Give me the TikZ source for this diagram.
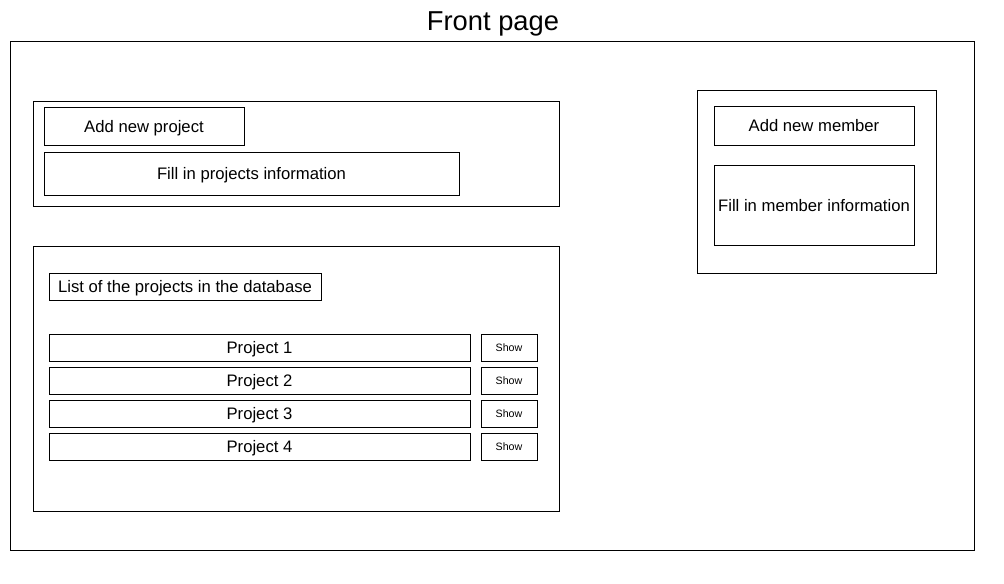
\documentclass[tikz,border=0pt]{standalone}
\usepackage{fontspec}
\setmainfont{Liberation Sans}
\begin{document}
\begin{tikzpicture}[x=0.75pt,y=-0.75pt,line width=0.65pt,
	titre/.style={font=\fontsize{20.5}{24}\selectfont},
	texte/.style={font=\fontsize{12.5}{14}\selectfont, text depth=0pt},
	petit/.style={font=\fontsize{8}{9}\selectfont, text depth=0pt}]
	\useasboundingbox (0,0) rectangle (1004,583);
	% la page
	\node[titre] (titre) at (493,24) {Front page};
	\draw (10,41) rectangle (974,550);
	% nouveau projet
	\draw (33,101) rectangle (559,206);
	\draw (44,107) rectangle (244,145) node[midway,texte] (ajoutprojet) {Add new project};
	\draw (44,152) rectangle (459,195) node[midway,texte] (infoprojet) {Fill in projects information};
	% la liste des projets
	\draw (33,246) rectangle (559,511);
	\draw (49,273) rectangle (321,300) node[midway,texte] (liste) {List of the projects in the database};
	\foreach \i in {1,...,4}{
		\draw (49,301+33*\i) rectangle (470,328+33*\i) node[midway,texte] (projet\i) {Project \i};
		\draw (481,301+33*\i) rectangle (537,328+33*\i) node[midway,petit] (show\i) {Show};
	}
	% nouveau membre
	\draw (697,90) rectangle (936,273);
	\draw (714,106) rectangle (914,145) node[midway,texte] (ajoutmembre) {Add new member};
	\draw (714,165) rectangle (914,245) node[midway,texte] (infomembre) {Fill in member information};
\end{tikzpicture}
\end{document}
